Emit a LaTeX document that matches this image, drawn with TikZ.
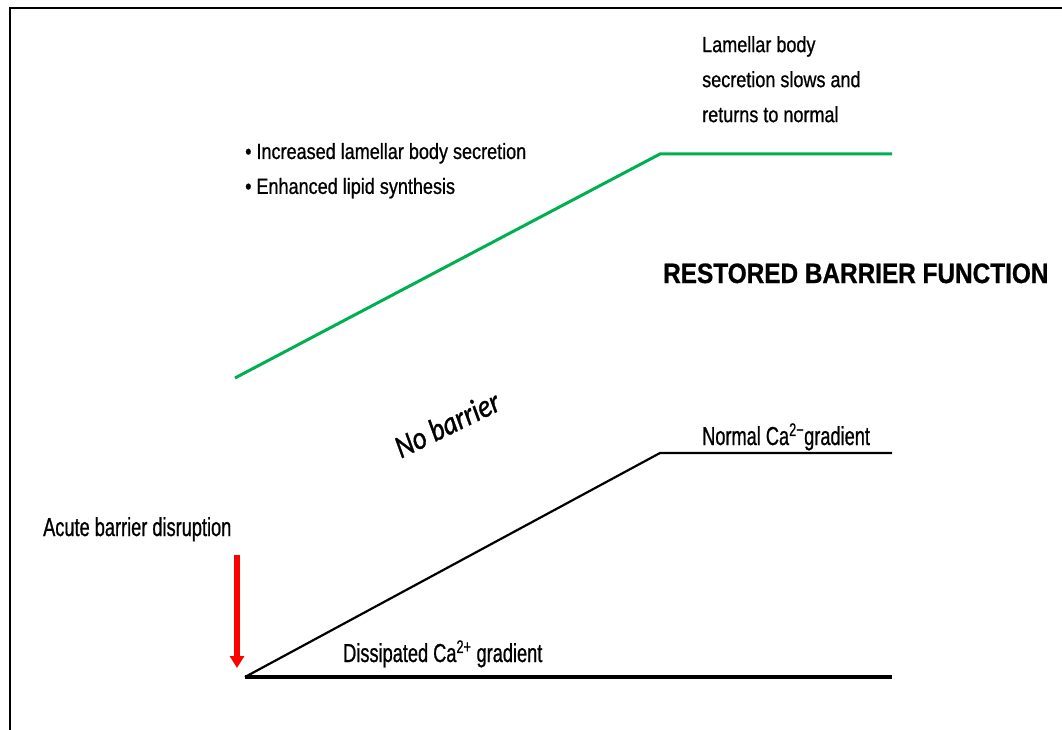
\documentclass[tikz,border=0pt]{standalone}
\usepackage{fontspec}
\setmainfont[FakeStretch=0.82, FakeBold=0.8]{Liberation Sans}
\newfontfamily\narrowfont[FakeStretch=0.7, FakeBold=0.8]{Liberation Sans}
\newfontfamily\headfont[FakeStretch=0.87, FakeBold=0.8]{Liberation Sans}
\newfontfamily\calfont[FakeStretch=0.85, FakeBold=1]{Carlito}
\usepackage{tikz}
\usetikzlibrary{positioning, arrows.meta}
\definecolor{linegreen}{RGB}{0,176,80}

\begin{document}
\begin{tikzpicture}[x=1pt, y=-1pt, inner sep=0pt,
    upper/.style={font=\fontsize{22}{35}\selectfont, align=left},
    lower/.style={font=\narrowfont\fontsize{26}{32}\selectfont},
    greenline/.style={draw=linegreen, line width=3pt},
    redarrow/.style={draw=red, line width=5.5pt, -{Triangle[width=14pt,length=12pt]}}]
  \useasboundingbox (0,0) rectangle (1062,730);
  % frame (left and top edges only)
  \draw[line width=2pt] (10,730) -- (10,8) -- (1062,8);
  % corner points of the curves
  \coordinate (gs) at (235,378);
  \coordinate (gk) at (660,154);
  \coordinate (ge) at (892,154);
  \coordinate (bs) at (245,677);
  \coordinate (bk) at (660,453);
  \coordinate (be) at (892,453);
  \coordinate (bb) at (892,677);
  \coordinate (at) at (237,555);
  \coordinate (ab) at (237,668);
  % lipid secretion curve
  \draw[greenline] (gs) -- (gk) -- (ge);
  % calcium gradient curve
  \draw[line width=2.2pt] (bs) -- (bk) -- (be);
  \draw[line width=4pt] (bs) -- (bb);
  \draw[redarrow] (at) -- (ab);
  % labels
  \node[upper, anchor=north west] (slow) at (702,36)
    {Lamellar body\\secretion slows and\\returns to normal};
  \node[upper, anchor=base west] (incr) at (245,159) {\textbullet\ Increased lamellar body secretion};
  \node[upper, below right=14pt and 0pt of incr.south west] (lipid) {\textbullet\ Enhanced lipid synthesis};
  \node[anchor=base west, font=\headfont\bfseries\fontsize{28}{34}\selectfont] (rest) at (663,283)
    {RESTORED BARRIER FUNCTION};
  \node[rotate=26, font=\calfont\itshape\fontsize{32}{36}\selectfont] (nob) at (447,424) {No barrier};
  \node[lower, anchor=base west] (norm) at (702,445) {Normal Ca\textsuperscript{2−}gradient};
  \node[lower, anchor=base west] (diss) at (343,662) {Dissipated Ca\textsuperscript{2+} gradient};
  \node[lower, anchor=base west] (acute) at (43,536) {Acute barrier disruption};
\end{tikzpicture}
\end{document}
